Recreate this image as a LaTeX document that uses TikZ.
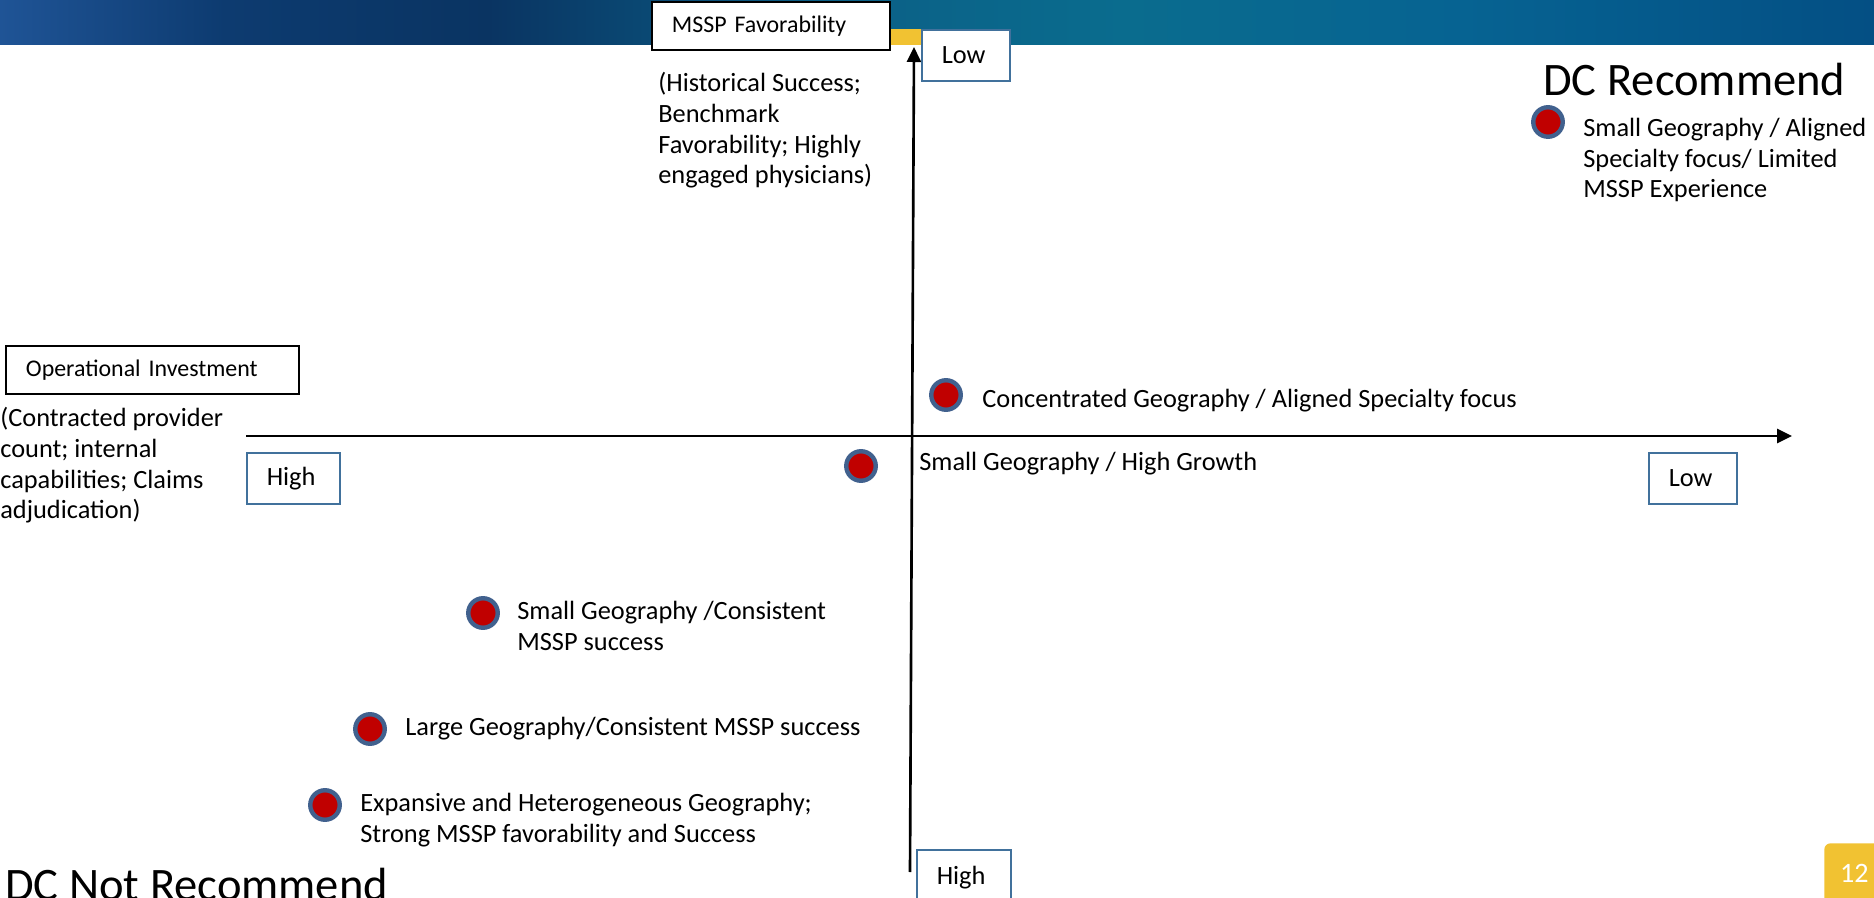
\documentclass[tikz,border=0pt]{standalone}
\usepackage{fontspec}
\setmainfont{Carlito}
\usepackage{xcolor}
\usepackage{tikz}
\usetikzlibrary{arrows.meta}

\definecolor{dotred}{HTML}{C00000}
\definecolor{dotring}{HTML}{41618E}
\definecolor{boxblue}{HTML}{41719C}
\definecolor{tabgold}{HTML}{F1C232}
\definecolor{bnA}{HTML}{1F5496}
\definecolor{bnB}{HTML}{0D3B70}
\definecolor{bnC}{HTML}{0A3462}
\definecolor{bnD}{HTML}{0B5F86}
\definecolor{bnE}{HTML}{0A6C8E}
\definecolor{bnF}{HTML}{066392}
\definecolor{bnG}{HTML}{044F84}
\pgfdeclarehorizontalshading{bannershade}{100bp}{color(0bp)=(bnA); color(25bp)=(bnA); color(31bp)=(bnB); color(38bp)=(bnC); color(47bp)=(bnD); color(55bp)=(bnE); color(64bp)=(bnF); color(75bp)=(bnG); color(100bp)=(bnG)}

\begin{document}
\begin{tikzpicture}[x=0.02cm, y=-0.02cm,
    every node/.style={font=\fontsize{15}{17.5}\selectfont, inner sep=0pt},
    txt/.style={anchor=base west, align=left},
    bigtxt/.style={anchor=base west, font=\fontsize{26.5}{30}\selectfont},
    blackbox/.style={draw=black, line width=1.1pt, fill=white, anchor=north west, align=left,
        inner xsep=0.4cm, minimum height=0.96cm, font=\fontsize{13.6}{16}\selectfont},
    bluebox/.style={draw=boxblue, line width=0.9pt, fill=white, anchor=north west, align=left,
        inner xsep=0.4cm, minimum height=1.02cm},
    dot/.style={circle, fill=dotred, draw=dotring, line width=2.5pt, minimum size=0.59cm},
    axis/.style={line width=1.5pt, -{Triangle[length=0.3cm, width=0.28cm]}}]
        \useasboundingbox (0,0) rectangle (1874,898);
        % banner
        \shade[shading=bannershade] (0,0) rectangle (1874,45);
        \fill[tabgold] (889,29) rectangle (921,45);

        % axes
        \coordinate (yBot) at (910,872);
        \coordinate (yTop) at (914,47);
        \coordinate (xLeft) at (246,436);
        \coordinate (xRight) at (1792,436);
        \draw[axis] (yBot) -- (yTop);
        \draw[axis] (xLeft) -- (xRight);

        % axis titles and ends (multi-line texts sit on their last baseline)
        \node[blackbox, text width=3.96cm] (yTitle) at (651,1) {MSSP Favorability};
        \node[txt] (yNote) at (658,184) {(Historical Success;\\Benchmark\\Favorability; Highly\\engaged physicians)};
        \node[bluebox, text width=0.96cm] (yLow) at (921,29) {Low};
        \node[bluebox, text width=1.08cm, minimum height=1.1cm] (yHigh) at (916,849) {High};
        \node[blackbox, text width=5.06cm] (xTitle) at (5,345) {Operational Investment};
        \node[txt] (xNote) at (0,519) {(Contracted provider\\count; internal\\capabilities; Claims\\adjudication)};
        \node[bluebox, text width=1.06cm] (xHigh) at (246,452) {High};
        \node[bluebox, text width=0.96cm] (xLow) at (1648,452) {Low};

        % groups
        \node[bigtxt] (recTitle) at (1543,96) {DC Recommend};
        \node[dot] (dotA) at (1548,122) {};
        \node[txt] (dotAtext) at (1583,198) {Small Geography / Aligned\\Specialty focus/ Limited\\MSSP Experience};
        \node[dot] (dotB) at (946,395) {};
        \node[txt] (dotBtext) at (982,408) {Concentrated Geography / Aligned Specialty focus};
        \node[dot] (dotC) at (861,466) {};
        \node[txt] (dotCtext) at (919,471) {Small Geography / High Growth};
        \node[dot] (dotD) at (483,613) {};
        \node[txt] (dotDtext) at (517,650) {Small Geography /Consistent\\MSSP success};
        \node[dot] (dotE) at (370,729) {};
        \node[txt] (dotEtext) at (405,735) {Large Geography/Consistent MSSP success};
        \node[dot] (dotF) at (325,805) {};
        \node[txt] (dotFtext) at (360,842) {Expansive and Heterogeneous Geography;\\Strong MSSP favorability and Success};
        \node[bigtxt] (notTitle) at (5,900) {DC Not Recommend};

        % page tab
        \node[fill=tabgold, rounded corners=0.12cm, anchor=north west, minimum width=1.2cm,
            minimum height=1.2cm, text=white, font=\fontsize{16}{18}\selectfont] (pageNo) at (1824,843) {12};
    \end{tikzpicture}
\end{document}
